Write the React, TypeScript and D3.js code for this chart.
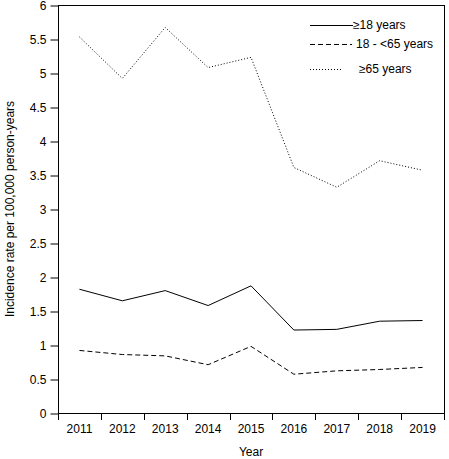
import React, { useEffect, useRef } from 'react';
import * as d3 from 'd3';

const years = ['2011', '2012', '2013', '2014', '2015', '2016', '2017', '2018', '2019'];
const adults = [1.82, 1.65, 1.8, 1.58, 1.87, 1.22, 1.23, 1.35, 1.36];
const adultsUnder65 = [0.92, 0.86, 0.84, 0.71, 0.98, 0.57, 0.62, 0.64, 0.67];
const seniors = [5.53, 4.92, 5.67, 5.08, 5.23, 3.61, 3.32, 3.71, 3.57];
const yTicks = [0, 0.5, 1, 1.5, 2, 2.5, 3, 3.5, 4, 4.5, 5, 5.5, 6];

interface Series {
  label: string;
  values: number[];
  dash: string | null;
  legendLen: number;
  legendIndent: number;
}

const series: Series[] = [
  { label: '≥18 years', values: adults, dash: null, legendLen: 43, legendIndent: 0 },
  { label: '18 - <65 years', values: adultsUnder65, dash: '5,3', legendLen: 42, legendIndent: 3 },
  { label: '≥65 years', values: seniors, dash: '1,2', legendLen: 33, legendIndent: 6 },
];

const App = () => {
  const ref = useRef<SVGSVGElement>(null);

  useEffect(() => {
    const svg = d3.select(ref.current);
    svg.selectAll('*').remove();

    const left = 58;
    const right = 444;
    const top = 5;
    const bottom = 413;
    const font = 'Liberation Sans, Arial, sans-serif';

    const x = d3.scaleBand<string>().domain(years).range([left, right]);
    const y = d3.scaleLinear().domain([0, 6]).range([bottom, top]);

    // frame
    svg
      .append('rect')
      .attr('x', left + 0.5)
      .attr('y', top + 0.5)
      .attr('width', right - left)
      .attr('height', bottom - top)
      .attr('fill', 'none')
      .attr('stroke', '#000');

    // y axis
    const yAxis = svg
      .append('g')
      .attr('transform', `translate(${left + 0.5},0.5)`)
      .call(d3.axisLeft(y).tickValues(yTicks).tickSize(8).tickPadding(4).tickFormat((d) => String(d)));
    yAxis.select('.domain').remove();
    yAxis.selectAll('text').attr('font-family', font).attr('font-size', 12).attr('fill', '#000');

    // x axis: ticks at category boundaries, labels at centers
    const xg = svg.append('g');
    const bounds = years.map((yr) => x(yr) as number).concat([right]);
    xg.selectAll('line')
      .data(bounds)
      .enter()
      .append('line')
      .attr('x1', (d) => Math.round(d) + 0.5)
      .attr('x2', (d) => Math.round(d) + 0.5)
      .attr('y1', bottom)
      .attr('y2', bottom + 7)
      .attr('stroke', '#000');
    xg.selectAll('text')
      .data(years)
      .enter()
      .append('text')
      .attr('x', (d) => (x(d) as number) + x.bandwidth() / 2)
      .attr('y', 433)
      .attr('text-anchor', 'middle')
      .attr('font-family', font)
      .attr('font-size', 12)
      .text((d) => d);

    // lines
    const line = d3
      .line<number>()
      .x((_, i) => (x(years[i]) as number) + x.bandwidth() / 2)
      .y((d) => y(d));

    series.forEach((s) => {
      svg
        .append('path')
        .attr('d', line(s.values))
        .attr('fill', 'none')
        .attr('stroke', '#000')
        .attr('stroke-width', 1)
        .attr('stroke-dasharray', s.dash);
    });

    // legend
    const legendY = [25, 44, 69];
    series.forEach((s, i) => {
      const g = svg.append('g');
      g.append('line')
        .attr('x1', 310)
        .attr('x2', 310 + s.legendLen)
        .attr('y1', legendY[i] + 0.5)
        .attr('y2', legendY[i] + 0.5)
        .attr('stroke', '#000')
        .attr('stroke-dasharray', s.dash);
      g.append('text')
        .attr('x', 353 + s.legendIndent)
        .attr('y', legendY[i] + 4)
        .attr('font-family', font)
        .attr('font-size', 12)
        .text(s.label);
    });

    // axis titles
    svg
      .append('text')
      .attr('x', (left + right) / 2)
      .attr('y', 456)
      .attr('text-anchor', 'middle')
      .attr('font-family', font)
      .attr('font-size', 12)
      .text('Year');
    svg
      .append('text')
      .attr('transform', `translate(14,${(top + bottom) / 2}) rotate(-90)`)
      .attr('text-anchor', 'middle')
      .attr('font-family', font)
      .attr('font-size', 12)
      .text('Incidence rate per 100,000 person-years');
  }, []);

  return (
    <svg
      ref={ref}
      width={449}
      height={459}
      style={{ position: 'absolute', left: 0, top: 0, background: '#fff' }}
    />
  );
};

export default App;
